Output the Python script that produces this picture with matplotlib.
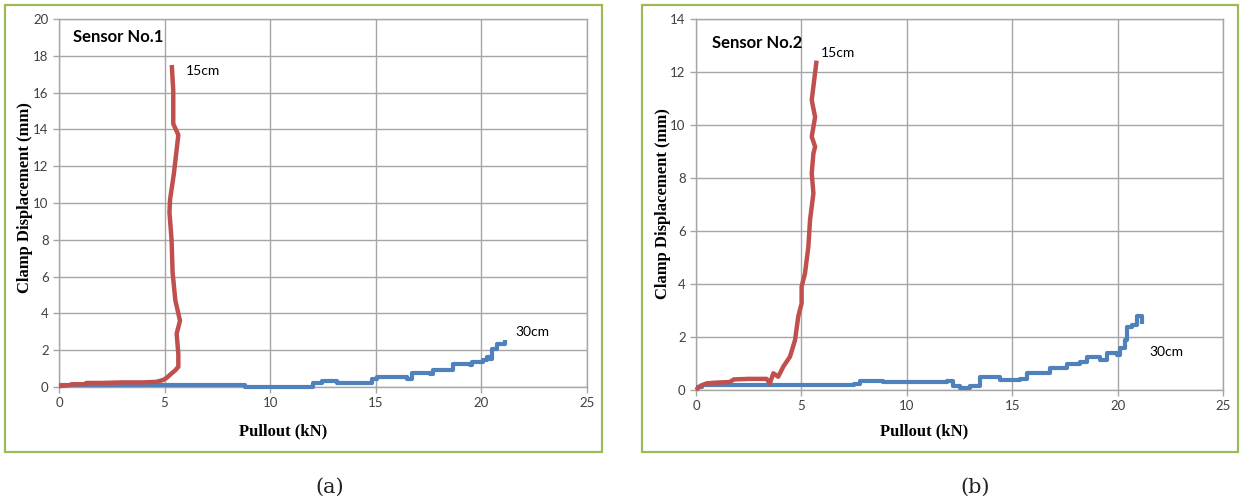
import matplotlib
matplotlib.use("Agg")
import matplotlib.pyplot as plt
from matplotlib.patches import Rectangle

# ---------------- data ----------------
# Sensor No.1, 15cm (red)
s1_15_x = [0.0, 0.3, 0.5, 0.6, 1.2, 1.3, 2.0, 3.0, 4.0, 4.6, 4.93, 5.1, 5.34, 5.5, 5.65, 5.65, 5.57,
           5.73, 5.51, 5.38, 5.33, 5.23, 5.26, 5.44, 5.57, 5.65, 5.41, 5.41, 5.41, 5.34]
s1_15_y = [0.05, 0.08, 0.1, 0.15, 0.15, 0.22, 0.22, 0.25, 0.25, 0.28, 0.38, 0.5, 0.75, 0.9, 1.1, 1.8, 2.9,
           3.6, 4.7, 6.2, 8.0, 9.5, 10.2, 11.6, 12.9, 13.7, 14.3, 15.2, 16.1, 17.5]

# Sensor No.1, 30cm (blue)
s1_30_x = [0.0, 0.5, 2.0, 4.0, 6.0, 8.1, 8.7, 8.8, 11.9, 12.04, 12.44, 12.98, 13.15, 14.57, 14.8, 15.04,
           16.46, 16.7, 17.57, 17.72, 18.51, 18.67, 19.46, 19.54, 20.09, 20.25, 20.4, 20.49, 20.72, 21.12]
s1_30_y = [0.1, 0.12, 0.12, 0.12, 0.12, 0.11, 0.1, 0.0, 0.0, 0.2, 0.33, 0.33, 0.2, 0.2, 0.43, 0.52,
           0.43, 0.74, 0.71, 0.92, 0.92, 1.25, 1.2, 1.38, 1.47, 1.61, 1.52, 2.07, 2.32, 2.55]

# Sensor No.2, 15cm (red)
s2_15_x = [0.0, 0.2, 0.5, 1.0, 1.6, 1.8, 2.5, 3.35, 3.5, 3.67, 3.9, 4.14, 4.46, 4.70, 4.85, 5.01, 5.01,
           5.17, 5.33, 5.41, 5.57, 5.49, 5.57, 5.65, 5.49, 5.65, 5.49, 5.72]
s2_15_y = [0.0, 0.15, 0.25, 0.28, 0.3, 0.4, 0.42, 0.42, 0.25, 0.63, 0.5, 0.88, 1.26, 1.89, 2.77, 3.27, 3.9,
           4.4, 5.41, 6.42, 7.42, 8.18, 8.93, 9.18, 9.56, 10.3, 10.94, 12.43]

# Sensor No.2, 30cm (blue)
s2_30_x = [0.0, 0.3, 2.0, 4.0, 6.0, 7.5, 7.78, 8.89, 11.89, 12.2, 12.52, 13.0, 13.47, 14.18, 14.42, 15.37,
           15.69, 16.32, 16.79, 17.59, 18.22, 18.53, 19.17, 19.48, 19.96, 20.11, 20.35, 20.43, 20.67, 20.9, 21.14]
s2_30_y = [0.1, 0.18, 0.2, 0.2, 0.2, 0.22, 0.34, 0.32, 0.34, 0.15, 0.09, 0.15, 0.5, 0.5, 0.38, 0.4,
           0.63, 0.65, 0.82, 1.0, 1.07, 1.23, 1.13, 1.38, 1.32, 1.57, 1.89, 2.39, 2.45, 2.79, 2.49]

x_ticks = [0, 5, 10, 15, 20, 25]
y_ticks_1 = list(range(0, 21, 2))
y_ticks_2 = list(range(0, 15, 2))

panel_titles = ["Sensor No.1", "Sensor No.2"]
captions = ["(a)", "(b)"]
xlabel = "Pullout (kN)"
ylabel = "Clamp Displacement (mm)"

RED = "#c0504d"
BLUE = "#4f81bd"
GREEN = "#9bbb59"
GRID = "#a6a6a6"

W, H = 1242, 501
fig = plt.figure(figsize=(W / 100, H / 100), dpi=100)


def px_rect(x0, y0, x1, y1):
    return [x0 / W, 1 - y1 / H, (x1 - x0) / W, (y1 - y0) / H]


# green panel borders
for (x0, y0, x1, y1) in [(5, 5, 602, 452), (642, 5, 1238, 452)]:
    r = px_rect(x0, y0, x1, y1)
    fig.patches.append(Rectangle((r[0], r[1]), r[2], r[3], transform=fig.transFigure,
                                 fill=False, edgecolor=GREEN, linewidth=1.6))

ax1 = fig.add_axes(px_rect(59, 19, 587, 387))
ax2 = fig.add_axes(px_rect(696, 19, 1223, 390))

specs = [
    (ax1, s1_15_x, s1_15_y, s1_30_x, s1_30_y, y_ticks_1, 20),
    (ax2, s2_15_x, s2_15_y, s2_30_x, s2_30_y, y_ticks_2, 14),
]

for ax, rx, ry, bx, by, yt, ymax in specs:
    ax.plot(bx, by, color=BLUE, lw=3.0, drawstyle="steps-post", zorder=3, clip_on=False,
            solid_capstyle="butt")
    ax.plot(rx, ry, color=RED, lw=3.2, zorder=4, clip_on=False, solid_capstyle="butt")
    ax.set_xlim(0, 25)
    ax.set_ylim(0, ymax)
    ax.set_xticks(x_ticks)
    ax.set_yticks(yt)
    ax.grid(True, color=GRID, lw=1.0)
    ax.set_axisbelow(True)
    for s in ax.spines.values():
        s.set_color(GRID)
        s.set_linewidth(1.0)
    ax.tick_params(axis="both", labelsize=9.5, length=4, width=1.0, direction="out",
                   color=GRID, labelcolor="#404040")
    for lab in ax.get_xticklabels() + ax.get_yticklabels():
        lab.set_fontfamily("Lato")

fig.text(25 / W, 1 - 198 / H, ylabel, rotation=90, ha="center", va="center",
         fontfamily="Liberation Serif", fontweight="bold", fontsize=12)
fig.text(663 / W, 1 - 204 / H, ylabel, rotation=90, ha="center", va="center",
         fontfamily="Liberation Serif", fontweight="bold", fontsize=12)
fig.text(283 / W, 1 - 431 / H, xlabel, ha="center", va="center",
         fontfamily="Liberation Serif", fontweight="bold", fontsize=12)
fig.text(924 / W, 1 - 431 / H, xlabel, ha="center", va="center",
         fontfamily="Liberation Serif", fontweight="bold", fontsize=12)

fig.text(330 / W, 1 - 487 / H, captions[0], ha="center", va="center",
         fontfamily="DejaVu Serif", fontsize=15, color="#222222")
fig.text(975 / W, 1 - 487 / H, captions[1], ha="center", va="center",
         fontfamily="DejaVu Serif", fontsize=15, color="#222222")

ax1.text(0.66, 19.0, panel_titles[0], fontfamily="Lato", fontweight="bold", fontsize=12,
         ha="left", va="center", color="black")
ax2.text(0.76, 13.1, panel_titles[1], fontfamily="Lato", fontweight="bold", fontsize=12,
         ha="left", va="center", color="black")

ax1.text(6.0, 17.2, "15cm", fontfamily="Lato", fontsize=10, ha="left", va="center")
ax1.text(21.6, 3.0, "30cm", fontfamily="Lato", fontsize=10, ha="left", va="center")
ax2.text(5.9, 12.7, "15cm", fontfamily="Lato", fontsize=10, ha="left", va="center")
ax2.text(21.5, 1.43, "30cm", fontfamily="Lato", fontsize=10, ha="left", va="center")

fig.savefig("out.png", dpi=100)
